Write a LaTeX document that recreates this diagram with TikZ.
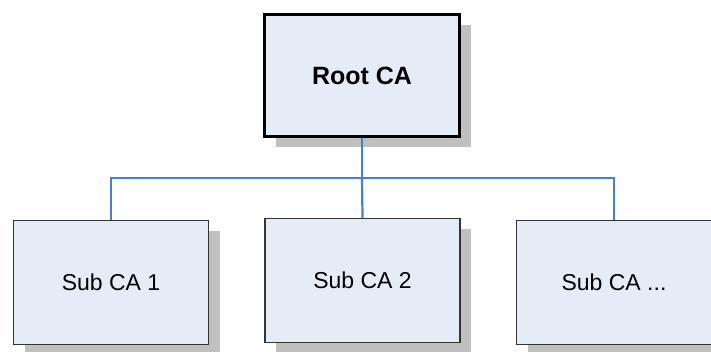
\documentclass[tikz,border=0pt]{standalone}
\usepackage{fontspec}
\setmainfont{Liberation Sans}
\usetikzlibrary{shadows}
\definecolor{boxfill}{RGB}{230,236,247}
\definecolor{linkblue}{RGB}{74,126,200}
\definecolor{shadowgray}{RGB}{192,192,192}
\begin{document}
\begin{tikzpicture}[x=1pt, y=-1pt,
		cabox/.style={rectangle, fill=boxfill, draw=black!80, line width=1.5pt,
			minimum width=195pt, minimum height=124pt, inner sep=0pt,
			font=\fontsize{23}{27}\selectfont,
			drop shadow={shadow xshift=11pt, shadow yshift=-11pt, fill=shadowgray, opacity=1}},
		rootbox/.style={cabox, draw=black, line width=3pt, minimum height=122pt,
			font=\bfseries\fontsize{25}{29}\selectfont},
		link/.style={draw=linkblue, line width=2.2pt}]
		\useasboundingbox (0, 0) rectangle (711, 352);

		\node[rootbox] (root) at (362, 75.5) {Root CA};
		\node[cabox] (sub1) at (111, 282.5) {Sub CA 1};
		\node[cabox] (sub2) at (362.5, 280.5) {Sub CA 2};
		\node[cabox] (subn) at (614, 282.5) {Sub CA ...};

		\coordinate (bus) at (362, 178);
		\draw[link] (root.south) -- (bus);
		\draw[link] (sub1.north) |- (bus) -| (subn.north);
		\draw[link] (bus) -- (sub2.north);
	\end{tikzpicture}
\end{document}
